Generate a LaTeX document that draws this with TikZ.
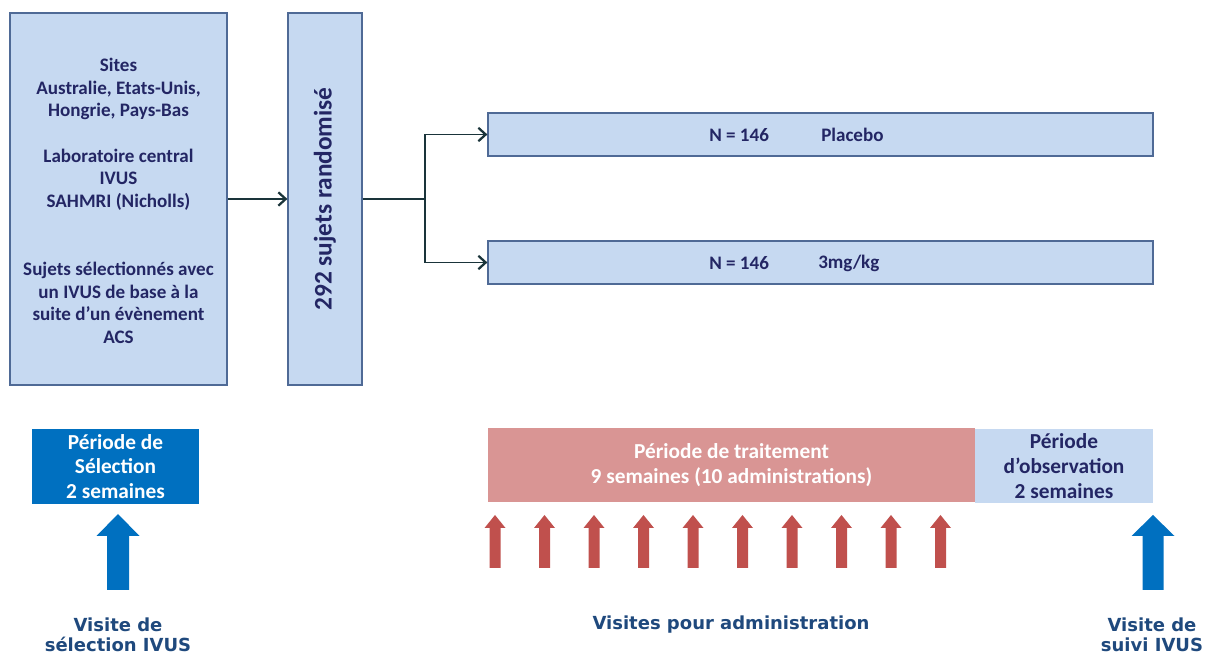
\documentclass[tikz,border=0pt]{standalone}
\usepackage{fontspec}
\setmainfont{Carlito}
\newfontfamily\labelfont{DejaVu Sans}
\usepackage{tikz}
\usetikzlibrary{arrows.meta,positioning}

\definecolor{boxblue}{RGB}{198,217,241}
\definecolor{boxline}{RGB}{79,106,150}
\definecolor{textnavy}{RGB}{35,38,100}
\definecolor{linkdark}{RGB}{26,52,58}
\definecolor{selblue}{RGB}{0,112,192}
\definecolor{treatpink}{RGB}{217,149,148}
\definecolor{visitred}{RGB}{192,80,77}
\definecolor{labelblue}{RGB}{31,73,125}

% block arrow: colour, x, top, bottom, half head, half shaft, head length
\newcommand{\visitarrow}[7]{%
  \fill[#1] (#2-#5,#3+#7) -- (#2,#3) -- (#2+#5,#3+#7) -- (#2+#6,#3+#7)
    -- (#2+#6,#4) -- (#2-#6,#4) -- (#2-#6,#3+#7) -- cycle;}

\tikzset{
  studybox/.style={draw=boxline, line width=0.9pt, fill=boxblue, inner sep=0pt},
  boxtext/.style={text=textnavy, align=center, inner sep=0pt,
    font=\fontsize{14.3}{17}\selectfont\bfseries},
  periodbox/.style={inner sep=0pt, align=center,
    font=\fontsize{16}{18.5}\selectfont\bfseries},
  visitlabel/.style={text=labelblue, align=center, inner sep=0pt,
    font=\labelfont\fontsize{13.5}{15}\selectfont\bfseries},
  link/.style={draw=linkdark, line width=1.3pt},
  linkarrow/.style={link, -{Straight Barb[length=5.5pt,width=10pt,line width=1.7pt]}},
}

\begin{document}
\begin{tikzpicture}[x=0.75pt,y=-0.75pt]
  \def\px{0.75pt}
  \useasboundingbox (0,0) rectangle (1208,655);

  % Study set-up
  \node[studybox, minimum width=217*\px, minimum height=372*\px] (sites) at (118.5,199) {};
  \node[boxtext] (sitestext) at (118.5,201)
    {Sites\\Australie, Etats-Unis,\\Hongrie, Pays-Bas\\[17pt]Laboratoire central\\IVUS\\SAHMRI (Nicholls)\\[34pt]Sujets sélectionnés avec\\un IVUS de base à la\\suite d’un évènement\\ACS};
  \node[studybox, minimum width=74*\px, minimum height=372*\px] (rand) at (325,199) {};
  \node[boxtext, rotate=90, font=\fontsize{19}{21}\selectfont\bfseries] (randlabel) at (rand.center) {292 sujets randomisé};

  % Arms
  \node[studybox, minimum width=665*\px, minimum height=43*\px] (placebo) at (820.5,134.5) {};
  \node[boxtext, anchor=west] (placeboN) at (709,135) {N = 146};
  \node[boxtext, anchor=west] (placeboarm) at (821,135) {Placebo};
  \node[studybox, minimum width=665*\px, minimum height=43*\px] (dose) at (820.5,262.5) {};
  \node[boxtext, anchor=west] (doseN) at (709,263) {N = 146};
  \node[boxtext, anchor=west] (dosearm) at (818,263) {3mg/kg};

  % Connectors
  \coordinate (split) at (425,199);
  \draw[linkarrow] (sites.east) -- (rand.west);
  \draw[link] (rand.east) -- (split);
  \draw[linkarrow] (split) |- (placebo.west);
  \draw[linkarrow] (split) |- (dose.west);

  % Periods
  \node[periodbox, fill=selblue, text=white, minimum width=167*\px, minimum height=75*\px] (selection) at (115.5,466.5)
    {Période de\\Sélection\\2 semaines};
  \node[periodbox, fill=treatpink, text=white, minimum width=487*\px, minimum height=74*\px] (treatment) at (731.5,465)
    {Période de traitement\\9 semaines (10 administrations)};
  \node[periodbox, fill=boxblue, text=textnavy, minimum width=178*\px, minimum height=74*\px] (observation) at (1064,466)
    {Période\\d’observation\\2 semaines};

  % Visit arrows
  \visitarrow{selblue}{118}{514}{590}{21.5}{11}{22}
  \foreach \k in {0,...,9}{
    \visitarrow{visitred}{495+49.5*\k}{515}{568}{10.5}{5.5}{13}
  }
  \visitarrow{selblue}{1153}{515}{590}{21.5}{10.5}{21}

  % Visit labels
  \node[visitlabel] (visitsel) at (118,635) {Visite de\\sélection IVUS};
  \node[visitlabel] (visitadmin) at (731,625) {Visites pour administration};
  \node[visitlabel] (visitfu) at (1152,635) {Visite de\\suivi IVUS};
\end{tikzpicture}
\end{document}
